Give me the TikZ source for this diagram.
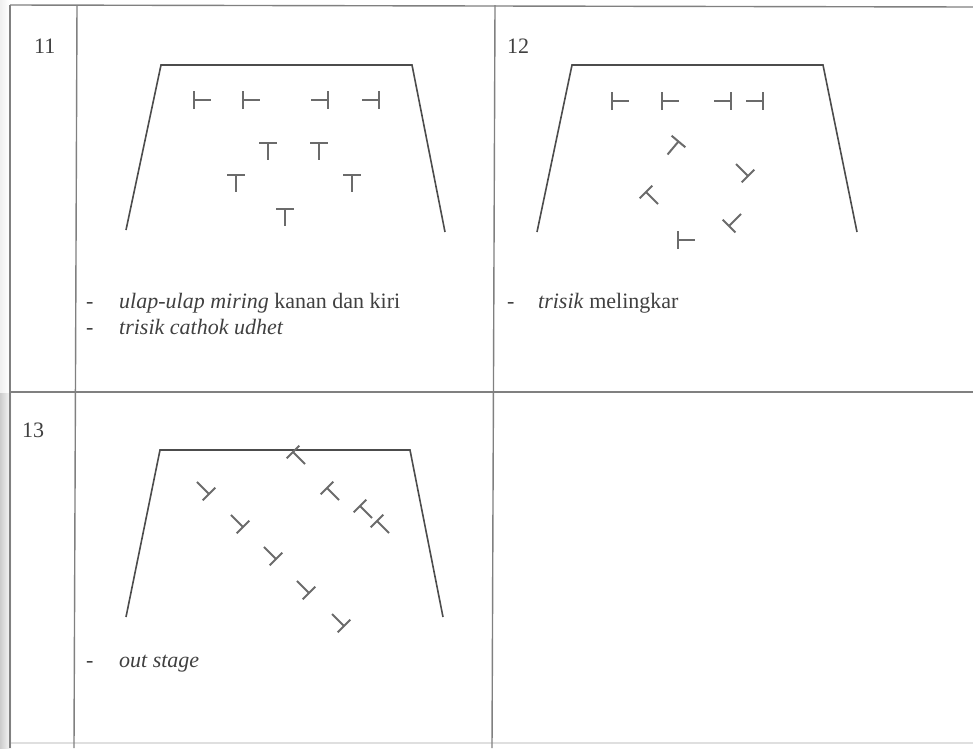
\documentclass[tikz,border=0pt]{standalone}
\usepackage{fontspec}
\setmainfont{Liberation Serif}
\usepackage{xcolor}
\usepackage{tikz}
\usetikzlibrary{positioning}
\definecolor{ScanRule}{gray}{0.50}
\definecolor{ScanInk}{gray}{0.30}
\definecolor{ScanFig}{gray}{0.42}
\definecolor{ScanText}{gray}{0.25}

\begin{document}
\begin{tikzpicture}[x=1pt,y=-1pt,
  rule/.style={draw=ScanRule,line width=1.4pt},
  stage/.style={draw=ScanInk,line width=1.6pt,line join=miter},
  figline/.style={draw=ScanFig,line width=2pt},
  celltext/.style={anchor=base west,inner sep=0pt,text=ScanText,font=\fontsize{22}{26}\selectfont},
  stagefig/.pic={\draw[figline] (-9,-8.5)--(9,-8.5) (0,-8.5)--(0,8.5);}]
  \useasboundingbox (0,0) rectangle (973,748);
  % scan shading and table rules
  \fill[left color=gray!40,right color=white] (0,392) rectangle (12,748);
  \fill[left color=gray!12,right color=white] (0,0) rectangle (9,392);
  \draw[rule] (10,5)--(973,7);
  \draw[rule] (10,392)--(973,392);
  \draw[rule,draw=gray!25] (10,743)--(973,743);
  \draw[rule] (10,5)--(10,748);
  \draw[rule] (77,5)--(74,748);
  \draw[rule] (495,5)--(492,748);
  % row numbers
  \node[celltext] (num11) at (34,53) {11};
  \node[celltext] (num12) at (507,53) {12};
  \node[celltext] (num13) at (22,437) {13};
  % 11: ulap-ulap miring / trisik cathok udhet
  \draw[stage] (126,230)--(161,65)--(412,65)--(445,232);
  \foreach \x/\y/\r in {202/100/90,251/100/90,319/100/-90,370/100/-90,
      268/151/0,319/151/0,236/183/0,352/183/0,285/217/0}
    \pic[rotate=\r] at (\x,\y) {stagefig};
  \node[celltext] (item11a) at (119,308) {\textit{ulap-ulap miring} kanan dan kiri};
  \node[celltext] (item11b) at (119,334) {\textit{trisik cathok udhet}};
  \node[celltext] (dash11a) at (86,308) {-};
  \node[celltext] (dash11b) at (86,334) {-};
  % 12: trisik melingkar
  \draw[stage] (537,232)--(572,65)--(823,65)--(857,232);
  \foreach \x/\y/\r in {620/101/90,670/101/90,722/101/-90,754/101/-90,
      673/148/-40,742/170/225,652/198/45,735/220/135,686/240/90}
    \pic[rotate=\r] at (\x,\y) {stagefig};
  \node[celltext] (item12) at (538,308) {\textit{trisik} melingkar};
  \node[celltext] (dash12) at (507,308) {-};
  % 13: out stage
  \draw[stage] (126,617)--(160,450)--(410,450)--(443,617);
  \foreach \x/\y/\r in {203/488/225,237/521/225,270/553/225,303/587/225,338/620/225,
      299/458/45,333/494/45,366/512/45,383/527/45}
    \pic[rotate=\r] at (\x,\y) {stagefig};
  \node[celltext] (item13) at (119,667) {\textit{out stage}};
  \node[celltext] (dash13) at (86,667) {-};
\end{tikzpicture}
\end{document}
